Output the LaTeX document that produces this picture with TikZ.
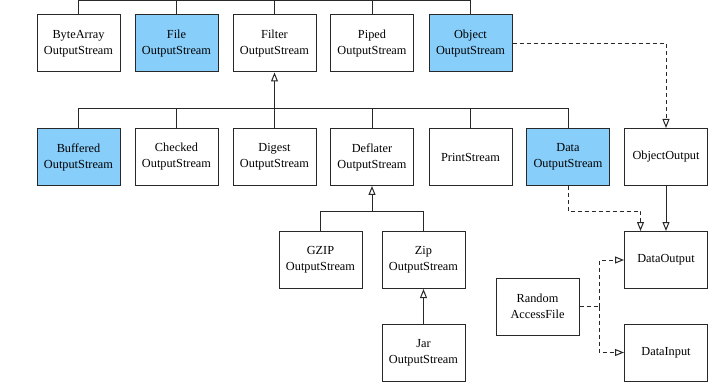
\documentclass[tikz,border=0pt]{standalone}
\usepackage{fontspec}
\setmainfont{Liberation Serif}
\usetikzlibrary{arrows.meta}
\definecolor{boxblue}{RGB}{135,206,250}
\definecolor{linegray}{RGB}{40,40,40}
\tikzset{
  cls/.style={draw=linegray, line width=1pt, fill=white, minimum width=83pt, minimum height=57pt,
    align=center, inner sep=0pt, font=\fontsize{12.3}{16}\selectfont},
  hl/.style={cls, fill=boxblue},
  conn/.style={draw=linegray, line width=1pt},
  inh/.style={conn, -{Triangle[open, length=9pt, width=7pt]}},
  impl/.style={conn, dash pattern=on 4pt off 3pt, -{Triangle[open, length=9pt, width=7pt]}},
  dsh/.style={conn, dash pattern=on 4pt off 3pt}
}
\begin{document}
\begin{tikzpicture}[x=1pt,y=-1pt]
\useasboundingbox (0,0) rectangle (718,385);
% row 1
\node[cls] (ba) at (78.5,43.5) {ByteArray\\OutputStream};
\node[hl] (file) at (176.5,43.5) {File\\OutputStream};
\node[cls] (filter) at (274.5,43.5) {Filter\\OutputStream};
\node[cls] (piped) at (372,43.5) {Piped\\OutputStream};
\node[hl] (object) at (470.5,43.5) {Object\\OutputStream};
% row 2
\node[hl] (buf) at (78.5,157) {Buffered\\OutputStream};
\node[cls] (chk) at (176.5,157) {Checked\\OutputStream};
\node[cls] (dig) at (274.5,157) {Digest\\OutputStream};
\node[cls] (defl) at (372,157) {Deflater\\OutputStream};
\node[cls] (print) at (470.5,157) {PrintStream};
\node[hl] (data) at (568,157) {Data\\OutputStream};
\node[cls] (oo) at (666,157) {ObjectOutput};
% row 3
\node[cls] (gzip) at (320.5,260) {GZIP\\OutputStream};
\node[cls] (zip) at (423.5,260) {Zip\\OutputStream};
\node[cls] (dout) at (666,260) {DataOutput};
\node[cls] (raf) at (537.5,306.5) {Random\\AccessFile};
% row 4
\node[cls] (jar) at (423.5,352.5) {Jar\\OutputStream};
\node[cls] (din) at (666,352.5) {DataInput};
% coordinates
\coordinate (top) at (0,0.8);
\coordinate (bus) at (0,108.5);
\coordinate (bus2) at (0,211.5);
\coordinate (dbend) at (640.5,211.5);
\coordinate (split) at (599.5,0);
% top bus
\draw[conn] (ba.north) -- (ba.north |- top) -- (object.north |- top) -- (object.north);
\foreach \n in {file,filter,piped} \draw[conn] (\n.north) -- (\n.north |- top);
% second bus
\draw[conn] (buf.north) -- (buf.north |- bus) -- (data.north |- bus) -- (data.north);
\foreach \n in {chk,dig,defl,print} \draw[conn] (\n.north) -- (\n.north |- bus);
\draw[inh] (dig.north |- bus) -- (filter.south);
% deflater bus
\draw[conn] (gzip.north) -- (gzip.north |- bus2) -- (zip.north |- bus2) -- (zip.north);
\draw[inh] (defl.south |- bus2) -- (defl.south);
\draw[inh] (jar.north) -- (zip.south);
% interfaces
\draw[impl] (object.east) -| (oo.north);
\draw[impl] (data.south) |- (dbend) -- (dbend |- dout.north);
\draw[inh] (oo.south) -- (dout.north);
\draw[dsh] (raf.east) -- (raf.east -| split);
\draw[impl] (raf.east -| split) |- (dout.west);
\draw[impl] (raf.east -| split) |- (din.west);
\end{tikzpicture}
\end{document}
